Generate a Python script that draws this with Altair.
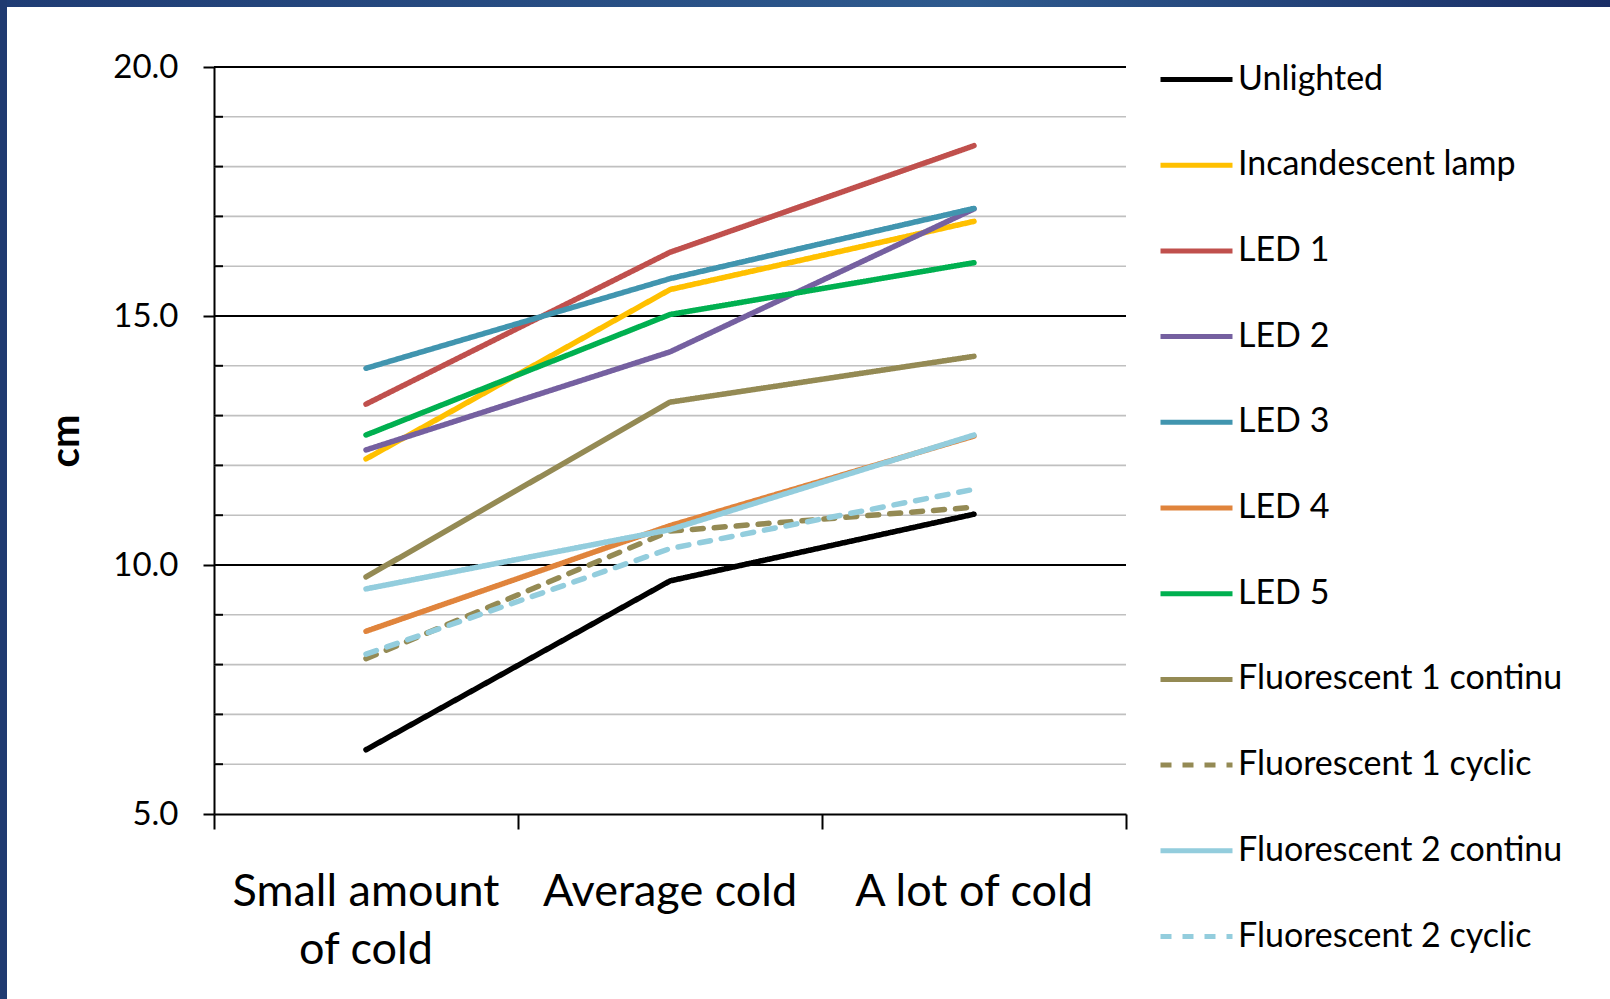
import altair as alt
import pandas as pd

# Cold-exposure groups (x axis) and their printed labels
categories = ["Small amount of cold", "Average cold", "A lot of cold"]
category_labels = ["Small amount\nof cold", "Average cold", "A lot of cold"]

# Light treatments in legend order
series = [
    "Unlighted",
    "Incandescent lamp",
    "LED 1",
    "LED 2",
    "LED 3",
    "LED 4",
    "LED 5",
    "Fluorescent 1 continu",
    "Fluorescent 1 cyclic",
    "Fluorescent 2 continu",
    "Fluorescent 2 cyclic",
]

# Plant height (cm) per treatment, one value per cold group
unlighted = [6.29, 9.68, 11.02]
incandescent = [12.13, 15.53, 16.90]
led1 = [13.23, 16.28, 18.42]
led2 = [12.31, 14.28, 17.15]
led3 = [13.95, 15.75, 17.16]
led4 = [8.67, 10.79, 12.59]
led5 = [12.61, 15.03, 16.07]
fluo1_continu = [9.76, 13.27, 14.19]
fluo1_cyclic = [8.12, 10.68, 11.16]
fluo2_continu = [9.52, 10.71, 12.61]
fluo2_cyclic = [8.21, 10.33, 11.52]

values = [unlighted, incandescent, led1, led2, led3, led4, led5,
          fluo1_continu, fluo1_cyclic, fluo2_continu, fluo2_cyclic]

colors = ["#000000", "#FFC000", "#C0504D", "#7560A0", "#4195AF", "#E0843C",
          "#00B050", "#948A54", "#948A54", "#93CDDD", "#93CDDD"]
dashes = [[1, 0]] * 8 + [[11, 11], [1, 0], [11, 11]]

# y-axis ticks and gridlines
major_ticks = [5, 10, 15, 20]
minor_ticks = [v for v in range(6, 20) if v % 5 != 0]

W, H = 912, 747
PAD_L, PAD_T = 214, 67
TOTAL_W, TOTAL_H = 1610, 999
FONT = "Lato"

rows = []
for s, vals in zip(series, values):
    for i, (c, v) in enumerate(zip(categories, vals)):
        rows.append({"series": s, "category": c, "pos": i + 0.5, "value": v})
df = pd.DataFrame(rows)

label_df = pd.DataFrame({"pos": [i + 0.5 for i in range(len(categories))], "label": category_labels})
minor_df = pd.DataFrame({"value": minor_ticks})
major_df = pd.DataFrame({"value": major_ticks[1:]})

x_scale = alt.Scale(domain=[0, len(categories)], nice=False, zero=False)
y_scale = alt.Scale(domain=[5, 20], nice=False, zero=False)

x_axis = alt.Axis(
    values=list(range(len(categories) + 1)), labels=False, title=None,
    tickSize=15, tickWidth=2, tickColor="#000000",
    domainColor="#000000", domainWidth=2, grid=False,
)
y_axis = alt.Axis(
    values=major_ticks, format=".1f", title="cm",
    labelFont=FONT, labelFontSize=33, labelColor="#000000", labelPadding=25,
    tickSize=11, tickWidth=2, tickColor="#000000",
    domainColor="#000000", domainWidth=2, grid=False,
    titleFont=FONT, titleFontSize=40, titleFontWeight="bold",
    titleColor="#000000", titlePadding=26,
)

one = pd.DataFrame({"k": [0]})

# slide frame: navy bands along the top and left edges
top_band = alt.Chart(one).mark_rect(
    color=alt.Gradient(
        gradient="linear", x1=0, x2=1, y1=0, y2=0,
        stops=[alt.GradientStop(color="#1F3C74", offset=0),
               alt.GradientStop(color="#2E5A8E", offset=0.6),
               alt.GradientStop(color="#1A2E66", offset=1)],
    )
).encode(
    x=alt.value(-PAD_L), x2=alt.value(TOTAL_W - PAD_L),
    y=alt.value(-PAD_T), y2=alt.value(-PAD_T + 7),
)
left_band = alt.Chart(one).mark_rect(color="#1F3A70").encode(
    x=alt.value(-PAD_L), x2=alt.value(-PAD_L + 7),
    y=alt.value(-PAD_T), y2=alt.value(TOTAL_H - PAD_T),
)

minor_grid = alt.Chart(minor_df).mark_rule(color="#C0C0C0", strokeWidth=1.6).encode(
    y=alt.Y("value:Q", scale=y_scale, axis=y_axis)
)
major_grid = alt.Chart(major_df).mark_rule(color="#000000", strokeWidth=2).encode(
    y=alt.Y("value:Q", scale=y_scale, axis=y_axis)
)
minor_marks = alt.Chart(minor_df).mark_rule(color="#000000", strokeWidth=2).encode(
    y=alt.Y("value:Q", scale=y_scale, axis=y_axis),
    x=alt.value(0), x2=alt.value(9),
)

legend = alt.Legend(
    title=None, orient="none", legendX=944, legendY=-26,
    symbolType="stroke", symbolSize=5184, symbolStrokeWidth=5,
    labelFont=FONT, labelFontSize=34, labelColor="#000000",
    labelOffset=3, rowPadding=29.7, padding=0, labelLimit=0,
)

lines = alt.Chart(df).mark_line(strokeWidth=5.5, strokeCap="round", strokeJoin="round").encode(
    x=alt.X("pos:Q", scale=x_scale, axis=x_axis),
    y=alt.Y("value:Q", scale=y_scale, axis=y_axis),
    color=alt.Color("series:N", scale=alt.Scale(domain=series, range=colors), legend=legend),
    strokeDash=alt.StrokeDash("series:N", scale=alt.Scale(domain=series, range=dashes), legend=legend),
    order=alt.Order("pos:Q"),
)

x_labels = alt.Chart(label_df).mark_text(
    font=FONT, fontSize=45, color="#000000", align="center",
    baseline="alphabetic", lineBreak="\n", lineHeight=58,
).encode(
    x=alt.X("pos:Q", scale=x_scale, axis=x_axis),
    y=alt.value(H + 92),
    text="label:N",
)

chart = alt.layer(
    top_band, left_band, minor_grid, major_grid, minor_marks, lines, x_labels
).properties(
    width=W, height=H,
    autosize=alt.AutoSizeParams(type="none"),
    padding={"left": PAD_L, "top": PAD_T, "right": TOTAL_W - PAD_L - W, "bottom": TOTAL_H - PAD_T - H},
    background="#FFFFFF",
).configure_view(stroke=None)

chart.save("out.html", embed_options={"renderer": "svg", "actions": False})
